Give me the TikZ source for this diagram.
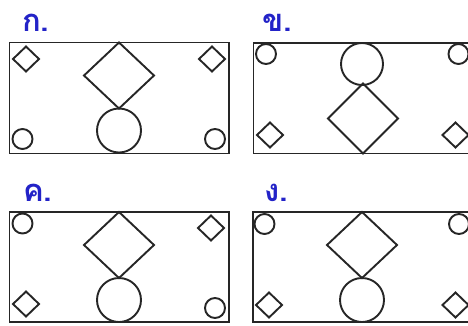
\documentclass[tikz,border=0pt]{standalone}
\usepackage{fontspec}
\newfontfamily\thaifont[Script=Thai]{Loma}
\definecolor{lblblue}{RGB}{35,35,200}
\tikzset{
  shp/.style={draw=black!85, line width=1.9pt},
  lbl/.style={text=lblblue, font=\thaifont\bfseries\fontsize{31}{31}\selectfont, anchor=base west, inner sep=0pt},
}
\newcommand{\dmd}[4]{\draw[shp] (#1-#3,#2) -- (#1,#2-#4) -- (#1+#3,#2) -- (#1,#2+#4) -- cycle;}
\newcommand{\crc}[3]{\draw[shp] (#1,#2) circle[radius=#3];}
\begin{document}
\begin{tikzpicture}[x=1pt,y=-1pt]
\useasboundingbox (0,0) rectangle (468,325);
\clip (0,0) rectangle (468,325);
\fill[white] (0,0) rectangle (468,325);
% labels
\node[lbl] (la) at (22,31) {ก.};
\node[lbl] (lb) at (262,31) {ข.};
\node[lbl] (lc) at (23,201) {ค.};
\node[lbl] (ld) at (264,201) {ง.};
% panel A
\draw[shp] (9.5,42.5) rectangle (229,153.5);
\dmd{119}{75.5}{35}{33}
\crc{119}{130.5}{22}
\dmd{26}{59}{13}{12.5}
\dmd{212}{59}{13}{12.5}
\crc{22.5}{139}{10}
\crc{215}{139}{10}
% panel B
\draw[shp] (253.5,43) rectangle (476,153.5);
\crc{362}{64}{21}
\dmd{363}{118.5}{35}{35}
\crc{266}{54}{10}
\crc{458.5}{54}{10}
\dmd{270}{135}{13}{12.5}
\dmd{455.5}{135}{13}{12.5}
% panel C
\draw[shp] (9.5,212) rectangle (229,322);
\dmd{119}{245}{35}{33}
\crc{119}{300}{22}
\crc{22.5}{223.5}{10}
\dmd{211}{228}{13}{12.5}
\dmd{26}{304}{13}{12.5}
\crc{215}{308}{10}
% panel D
\draw[shp] (253,212) rectangle (476,322);
\dmd{362}{245}{35}{33}
\crc{362}{300}{22}
\crc{264.5}{224}{10}
\crc{459}{224}{10}
\dmd{269}{305}{13}{12.5}
\dmd{455.5}{305}{13}{12.5}
\end{tikzpicture}
\end{document}
